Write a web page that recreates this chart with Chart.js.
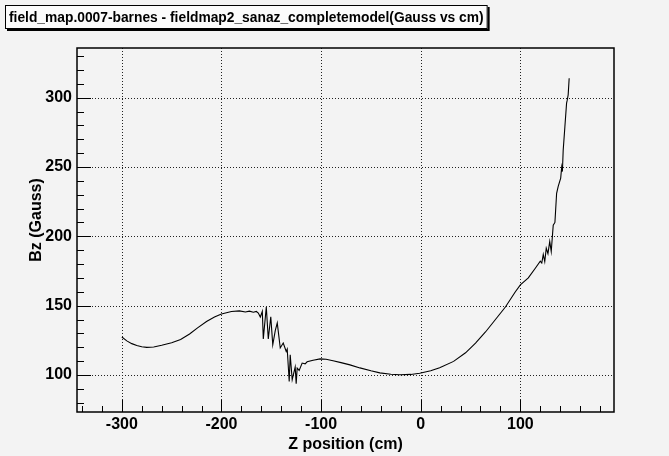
<!DOCTYPE html>
<html>
<head>
<meta charset="utf-8">
<title>field_map.0007-barnes</title>
<script src="https://cdn.jsdelivr.net/npm/chart.js@4.4.1/dist/chart.umd.min.js"></script>
<style>
  html, body { margin: 0; padding: 0; background: #f3f3f3; }
  canvas { display: block; }
</style>
</head>
<body>
<canvas id="field-chart" width="669" height="456"></canvas>
<script>
// Bz along the beam axis, field_map.0007-barnes vs fieldmap2_sanaz_completemodel

const plotTitle  = "field_map.0007-barnes - fieldmap2_sanaz_completemodel(Gauss vs cm)";
const xAxisTitle = "Z position (cm)";
const yAxisTitle = "Bz (Gauss)";

const zPos = [
  -300, -295, -290, -285, -280, -275, -268, -260, -250, -241,
  -232, -224, -215, -207, -200, -190, -182, -176, -172, -168,
  -165, -163, -161, -159, -158, -155, -153, -150.5, -148.5, -146,
  -144, -141, -138, -135, -134, -132, -131, -129, -126, -125,
  -124, -122, -119, -116, -114, -108, -101, -95, -88, -80,
  -71, -61, -50, -41, -30, -21, -10, -1, 10, 19,
  33, 45, 55, 65, 75, 85, 95, 100, 108, 115,
  120, 121.5, 123, 124.5, 126, 127.7, 129.5, 131, 133, 134.7,
  136.4, 138, 140.5, 141.5, 142.2, 143, 144.7, 146.4, 147, 148,
  149,
];

const bz = [
  127.4, 124.6, 122.6, 121.2, 120.3, 119.9, 120.2, 121.4, 123.3, 125.6,
  129.6, 134.0, 138.6, 141.8, 144.0, 145.8, 146.2, 145.4, 146.0, 145.2,
  145.8, 144.7, 141.8, 145.8, 126.0, 149.0, 126.0, 142.0, 121.8, 132.0,
  137.5, 119.5, 123.0, 117.0, 118.7, 95.4, 114.6, 96.6, 105.8, 93.7,
  105.0, 103.3, 108.6, 108.0, 109.5, 110.6, 111.6, 111.3, 110.3, 108.9,
  107.3, 105.1, 103.0, 101.5, 100.5, 100.2, 100.4, 101.3, 103.0, 105.2,
  109.8, 116.0, 123.0, 131.0, 140.0, 149.0, 160.0, 165.0, 170.0, 177.0,
  182.0, 180.7, 187.0, 181.8, 191.5, 187.5, 196.3, 189.0, 208.0, 210.0,
  231.0, 236.0, 242.0, 250.0, 246.7, 262.0, 279.0, 296.0, 298.0, 302.0,
  314.0,
];

const xRange = [-345, 194];
const yRange = [73.3, 335.8];

const xTicks      = [-300, -200, -100, 0, 100];
const yTicks      = [100, 150, 200, 250, 300];
const xMinorStep  = 20;
const yMinorStep  = 10;

const FONT = "'Liberation Sans', Arial, Helvetica, sans-serif";

// ---------------------------------------------------------------------------
// Frame, dotted grid, inward ticks, labels and the title box
// ---------------------------------------------------------------------------

const frameDecor = {
  id: "frameDecor",
  beforeDatasetsDraw(chart) {
    const { ctx, chartArea: a, scales: { x, y } } = chart;
    ctx.save();

    // dotted grid at the major ticks
    ctx.strokeStyle = "#222";
    ctx.lineWidth = 1;
    ctx.setLineDash([1, 2]);
    ctx.beginPath();
    xTicks.forEach(v => {
      const px = Math.round(x.getPixelForValue(v)) + 0.5;
      ctx.moveTo(px, a.top);
      ctx.lineTo(px, a.bottom);
    });
    yTicks.forEach(v => {
      const py = Math.round(y.getPixelForValue(v)) + 0.5;
      ctx.moveTo(a.left, py);
      ctx.lineTo(a.right, py);
    });
    ctx.stroke();
    ctx.setLineDash([]);

    // tick marks pointing into the frame
    ctx.strokeStyle = "#000";
    ctx.beginPath();
    for (let v = Math.ceil(xRange[0] / xMinorStep) * xMinorStep; v <= xRange[1]; v += xMinorStep) {
      const px = Math.round(x.getPixelForValue(v)) + 0.5;
      const len = xTicks.includes(v) ? 12 : 6;
      ctx.moveTo(px, a.bottom);
      ctx.lineTo(px, a.bottom - len);
    }
    for (let v = Math.ceil(yRange[0] / yMinorStep) * yMinorStep; v <= yRange[1]; v += yMinorStep) {
      const py = Math.round(y.getPixelForValue(v)) + 0.5;
      const len = yTicks.includes(v) ? 14 : 7;
      ctx.moveTo(a.left, py);
      ctx.lineTo(a.left + len, py);
    }
    ctx.stroke();
    ctx.restore();
  },
  afterDraw(chart) {
    const { ctx, chartArea: a, scales: { x, y } } = chart;
    ctx.save();

    // frame
    ctx.strokeStyle = "#000";
    ctx.lineWidth = 1.5;
    ctx.strokeRect(a.left, a.top, a.right - a.left, a.bottom - a.top);

    // tick labels
    ctx.fillStyle = "#000";
    ctx.font = "bold 16px " + FONT;
    ctx.textAlign = "center";
    ctx.textBaseline = "alphabetic";
    xTicks.forEach(v => ctx.fillText(String(v), x.getPixelForValue(v), 429));
    ctx.textAlign = "right";
    ctx.textBaseline = "middle";
    yTicks.forEach(v => ctx.fillText(String(v), 72, y.getPixelForValue(v)));

    // axis titles
    ctx.textAlign = "center";
    ctx.textBaseline = "alphabetic";
    ctx.fillText(xAxisTitle, (a.left + a.right) / 2, 449);

    ctx.translate(37, (a.top + a.bottom) / 2 - 10);
    ctx.rotate(-Math.PI / 2);
    ctx.textBaseline = "middle";
    ctx.fillText(yAxisTitle, 0, 0);
    ctx.setTransform(1, 0, 0, 1, 0, 0);

    // title box with drop shadow
    ctx.font = "bold 13.8px " + FONT;
    ctx.textBaseline = "alphabetic";
    const w = ctx.measureText(plotTitle).width + 8;
    ctx.fillStyle = "#000";
    ctx.fillRect(7, 7, w, 24);
    ctx.fillStyle = "#fbfbfb";
    ctx.fillRect(5, 5, w, 24);
    ctx.strokeStyle = "#000";
    ctx.lineWidth = 1;
    ctx.strokeRect(5.5, 5.5, w - 1, 23);
    ctx.fillStyle = "#000";
    ctx.textAlign = "left";
    ctx.fillText(plotTitle, 9, 22);
    ctx.restore();
  },
};

// ---------------------------------------------------------------------------
// Chart
// ---------------------------------------------------------------------------

const ctx = document.getElementById("field-chart");

new Chart(ctx, {
  type: "scatter",
  data: {
    datasets: [{
      data:        zPos.map((z, i) => ({ x: z, y: bz[i] })),
      showLine:    true,
      borderColor: "#000",
      borderWidth: 1.1,
      pointRadius: 0,
      tension:     0,
    }],
  },
  options: {
    responsive: false,
    animation:  false,
    layout: { padding: { top: 48, right: 55, left: 0, bottom: 0 } },
    plugins: {
      legend:  { display: false },
      tooltip: { enabled: false },
    },
    scales: {
      x: {
        type: "linear",
        min:  xRange[0],
        max:  xRange[1],
        afterBuildTicks: s => { s.ticks = xTicks.map(v => ({ value: v })); },
        afterFit:        s => { s.height = 44; },
        grid:   { display: false, drawTicks: false },
        border: { display: false },
        ticks:  { display: false },
      },
      y: {
        type: "linear",
        min:  yRange[0],
        max:  yRange[1],
        afterBuildTicks: s => { s.ticks = yTicks.map(v => ({ value: v })); },
        afterFit:        s => { s.width = 77; },
        grid:   { display: false, drawTicks: false },
        border: { display: false },
        ticks:  { display: false },
      },
    },
  },
  plugins: [frameDecor],
});
</script>
</body>
</html>
